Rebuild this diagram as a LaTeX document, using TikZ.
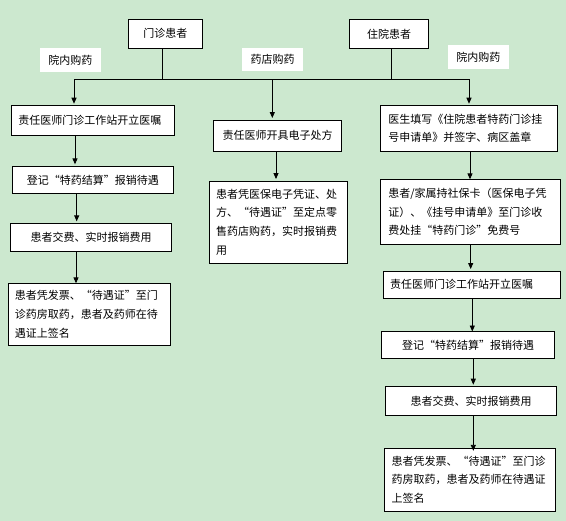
\documentclass[tikz,border=0pt]{standalone}
\usepackage{fontspec}
\newfontfamily\cjk{Noto Sans CJK SC}
\usetikzlibrary{arrows.meta}
\definecolor{bggreen}{RGB}{204,232,207}
\tikzset{
  box/.style={draw=black, fill=white, line width=0.9pt, inner sep=0pt,
    font=\cjk\fontsize{11}{18.8}\selectfont},
  lbox/.style={box, align=left, inner xsep=#1, inner ysep=0pt},
  tag/.style={fill=white, inner sep=0pt, font=\cjk\fontsize{11}{14}\selectfont},
  conn/.style={line width=0.9pt, draw=black},
  arr/.style={conn, -{Triangle[length=6pt,width=5pt]}, shorten >=1.5pt}
}
\begin{document}
\begin{tikzpicture}[x=1pt,y=-1pt]
\fill[bggreen] (0,0) rectangle (566,521);
\useasboundingbox (0,0) rectangle (566,521);

% top boxes
\node[box, minimum width=74pt, minimum height=29pt] (t1) at (165.3,33.8) {门诊患者};
\node[box, minimum width=79.4pt, minimum height=29pt] (t2) at (389,33.8) {住院患者};

% labels
\node[tag, minimum width=60.7pt, minimum height=24pt] (lab1) at (70.35,60) {院内购药};
\node[tag, minimum width=61.5pt, minimum height=22.4pt] (lab2) at (272.5,59.5) {药店购药};
\node[tag, minimum width=60.7pt, minimum height=24pt] (lab3) at (478.35,57) {院内购药};

% left column
\node[lbox=6.7pt, text width=149.6pt, minimum height=29.6pt] (lb1) at (93.2,120.5) {责任医师门诊工作站开立医嘱};
\node[box, minimum width=161.4pt, minimum height=27pt] (lb2) at (93,179.8) {登记“特药结算”报销待遇};
\node[box, minimum width=161pt, minimum height=28pt] (lb3) at (91.2,237.3) {患者交费、实时报销费用};
\node[lbox=6.7pt, text width=149pt, minimum height=62.4pt] (lb4) at (89.5,314.5) {患者凭发票、“待遇证”至门\\诊药房取药，患者及药师在待\\遇证上签名};

% middle column
\node[box, minimum width=128.4pt, minimum height=31.3pt] (mb1) at (277.5,135.65) {责任医师开具电子处方};
\node[lbox=6.7pt, text width=125pt, minimum height=82.3pt] (mb2) at (278.5,222.15) {患者凭医保电子凭证、处\\方、“待遇证”至定点零\\售药店购药，实时报销费\\用};

% right column
\node[lbox=7.6pt, text width=161.8pt, minimum height=45.3pt] (rb1) at (469.2,128.35) {医生填写《住院患者特药门诊挂\\号申请单》并签字、病区盖章};
\node[lbox=7.6pt, text width=164.8pt, minimum height=65pt] (rb2) at (470.7,211.8) {患者/家属持社保卡（医保电子凭\\证）、《挂号申请单》至门诊收\\费处挂“特药门诊”免费号};
\node[lbox=6.7pt, text width=164pt, minimum height=27.3pt] (rb3) at (472,284.65) {责任医师门诊工作站开立医嘱};
\node[box, minimum width=173pt, minimum height=27.7pt] (rb4) at (468.2,344.85) {登记“特药结算”报销待遇};
\node[box, minimum width=171.4pt, minimum height=28.6pt] (rb5) at (471,401) {患者交费、实时报销费用};
\node[lbox=7.4pt, text width=156.6pt, minimum height=62.7pt] (rb6) at (470,479.65) {患者凭发票、“待遇证”至门诊\\药房取药，患者及药师在待遇证\\上签名};

% junction coordinates
\coordinate (hL) at (74,79.3);
\coordinate (hM) at (272.3,79.3);
\coordinate (hR) at (469,79.3);
\coordinate (j1) at (162.3,79.3);
\coordinate (j2) at (391.5,79.3);
\coordinate (xa) at (75,0);
\coordinate (xb) at (76.7,0);
\coordinate (xc) at (76,0);
\coordinate (xm) at (276,0);
\coordinate (xr1) at (470,0);
\coordinate (xr2) at (470.7,0);
\coordinate (xr3) at (472.3,0);
\coordinate (xr4) at (473.3,0);

% top connectors
\draw[conn] (t1.south -| j1) -- (j1);
\draw[conn] (t2.south -| j2) -- (j2);
\draw[conn] (hL) -- (hR);
\draw[arr] (hL) -- (lb1.north -| hL);
\draw[arr] (hM) -- (mb1.north -| hM);
\draw[arr] (hR) -- (rb1.north -| hR);

% left column arrows
\draw[arr] (lb1.south -| xa) -- (lb2.north -| xa);
\draw[arr] (lb2.south -| xb) -- (lb3.north -| xb);
\draw[arr] (lb3.south -| xc) -- ([yshift=-2pt]lb4.north -| xc);

% middle arrow
\draw[arr] (mb1.south -| xm) -- (mb2.north -| xm);

% right column arrows
\draw[arr] (rb1.south -| xr1) -- ([yshift=-2pt]rb2.north -| xr1);
\draw[arr] (rb2.south -| xr2) -- (rb3.north -| xr2);
\draw[arr] (rb3.south -| xr3) -- ([yshift=-2.5pt]rb4.north -| xr3);
\draw[arr] (rb4.south -| xr4) -- (rb5.north -| xr4);
\draw[arr] (rb5.south -| xr4) -- ([yshift=-4.5pt]rb6.north -| xr4);
\end{tikzpicture}
\end{document}
